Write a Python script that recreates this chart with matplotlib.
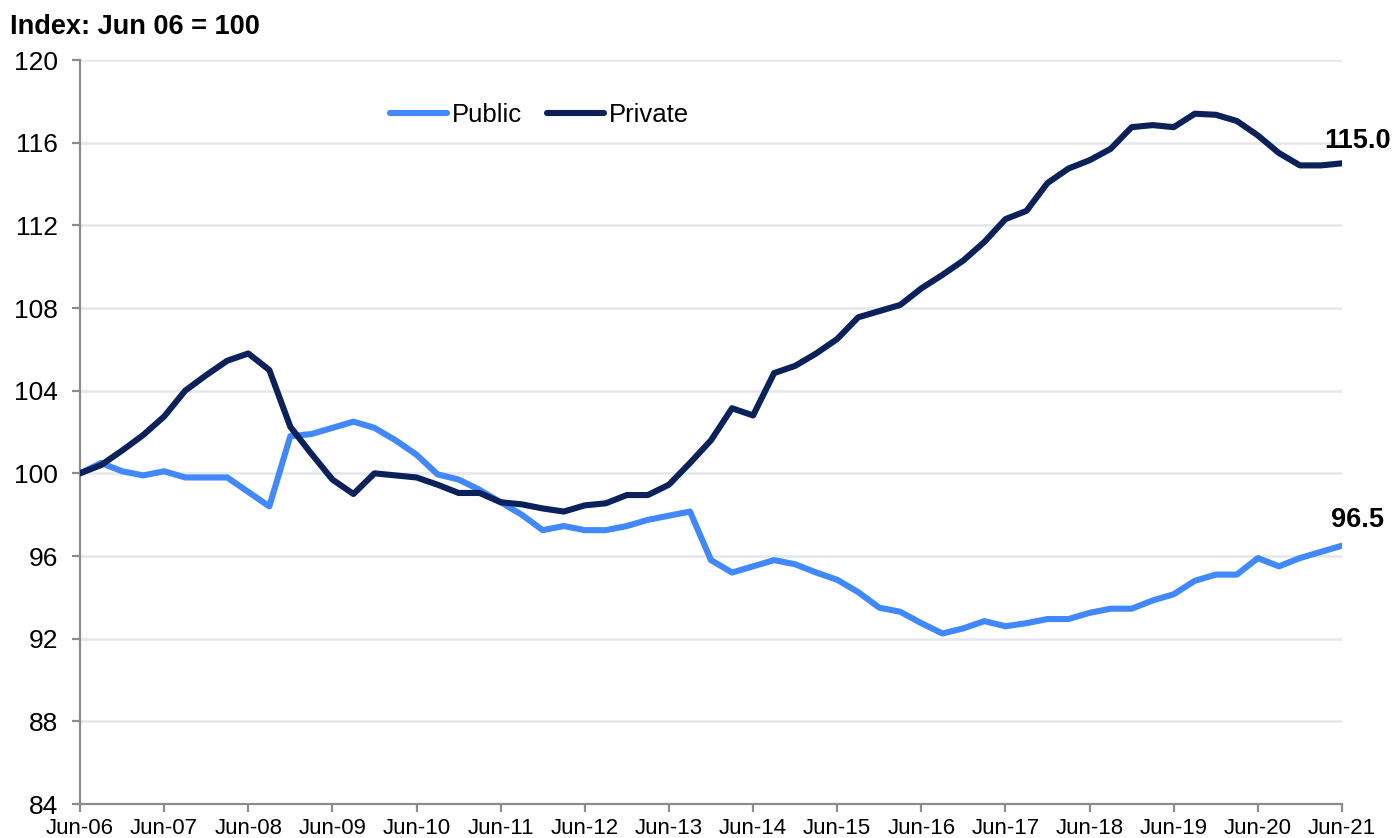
"""Public vs private sector index, Jun 06 = 100, quarterly to Jun 21."""

import numpy as np
import matplotlib
matplotlib.use("Agg")
import matplotlib.pyplot as plt


# Quarterly index values, Jun-06 .. Jun-21
PUBLIC = [100.0, 100.5, 100.1, 99.9, 100.1, 99.8, 99.8, 99.8, 99.1, 98.4,
          101.8, 101.9, 102.2, 102.5, 102.2, 101.6, 100.9, 99.95, 99.7, 99.2,
          98.6, 98.0, 97.25, 97.45, 97.25, 97.25, 97.45, 97.75, 97.95, 98.15,
          95.8, 95.2, 95.5, 95.8, 95.6, 95.2, 94.85, 94.25, 93.5, 93.3,
          92.75, 92.25, 92.5, 92.85, 92.6, 92.75, 92.95, 92.95, 93.25, 93.45,
          93.45, 93.85, 94.15, 94.8, 95.1, 95.1, 95.9, 95.5, 95.9, 96.2,
          96.5]
PRIVATE = [100.0, 100.4, 101.1, 101.85, 102.75, 104.0, 104.75, 105.45, 105.8, 105.0,
           102.25, 100.95, 99.7, 99.0, 100.0, 99.9, 99.8, 99.45, 99.05, 99.05,
           98.6, 98.5, 98.3, 98.15, 98.45, 98.55, 98.95, 98.95, 99.45, 100.5,
           101.6, 103.15, 102.8, 104.85, 105.2, 105.8, 106.5, 107.55, 107.85, 108.15,
           108.95, 109.6, 110.3, 111.2, 112.3, 112.7, 114.05, 114.75, 115.15, 115.7,
           116.75, 116.85, 116.75, 117.4, 117.35, 117.05, 116.35, 115.5, 114.9, 114.9,
           115.0]
YEAR_LABELS = [f"Jun-{y:02d}" for y in range(6, 22)]
Y_TICKS = list(range(84, 121, 4))

PUBLIC_COLOR = "#4189fb"
PRIVATE_COLOR = "#0a2159"
AXIS_COLOR = "#8c8c8c"
GRID_COLOR = "#e4e7ec"
FONT = ["Liberation Sans", "DejaVu Sans"]


def main():
    plt.rcParams["font.family"] = FONT
    fig = plt.figure(figsize=(13.93, 8.38), dpi=100)
    ax = fig.add_axes([80 / 1393, 1 - 804 / 838, 1262 / 1393, 744 / 838])

    x = np.arange(len(PUBLIC))
    ax.plot(x, PUBLIC, color=PUBLIC_COLOR, lw=4.4, label="Public",
            solid_capstyle="round", solid_joinstyle="round", zorder=3)
    ax.plot(x, PRIVATE, color=PRIVATE_COLOR, lw=4.4, label="Private",
            solid_capstyle="round", solid_joinstyle="round", zorder=3)

    ax.set_xlim(0, len(PUBLIC) - 1)
    ax.set_ylim(84, 120)
    ax.set_xticks(np.arange(0, len(PUBLIC), 4))
    ax.set_xticklabels(YEAR_LABELS)
    ax.set_yticks(Y_TICKS)

    ax.grid(axis="y", color=GRID_COLOR, lw=1.8, zorder=0)
    ax.set_axisbelow(True)
    for side in ("top", "right"):
        ax.spines[side].set_visible(False)
    for side in ("left", "bottom"):
        ax.spines[side].set_color(AXIS_COLOR)
        ax.spines[side].set_linewidth(1.6)

    ax.tick_params(axis="y", colors=AXIS_COLOR, length=6, width=1.6,
                   labelsize=19, labelcolor="black", pad=10)
    ax.tick_params(axis="x", colors=AXIS_COLOR, length=6, width=1.6,
                   labelsize=16, labelcolor="black", pad=4)

    # end-of-series labels
    ax.annotate(f"{PRIVATE[-1]:.1f}", (x[-1], PRIVATE[-1]), xytext=(11, 7),
                textcoords="offset points", ha="center", va="bottom",
                fontsize=19.5, fontweight="bold")
    ax.annotate(f"{PUBLIC[-1]:.1f}", (x[-1], PUBLIC[-1]), xytext=(11, 9),
                textcoords="offset points", ha="center", va="bottom",
                fontsize=19.5, fontweight="bold")

    fig.legend(loc="center left", bbox_to_anchor=(390 / 1393, 1 - 115 / 838),
               ncol=2, frameon=False, fontsize=18.5, handlelength=2.2,
               handletextpad=0.2, columnspacing=1.0, borderpad=0,
               borderaxespad=0)

    fig.text(10 / 1393, 1 - 27 / 838, "Index: Jun 06 = 100", ha="left",
             va="center", fontsize=19.5, fontweight="bold")

    fig.savefig("out.png", dpi=100)
    plt.close(fig)


if __name__ == "__main__":
    main()
